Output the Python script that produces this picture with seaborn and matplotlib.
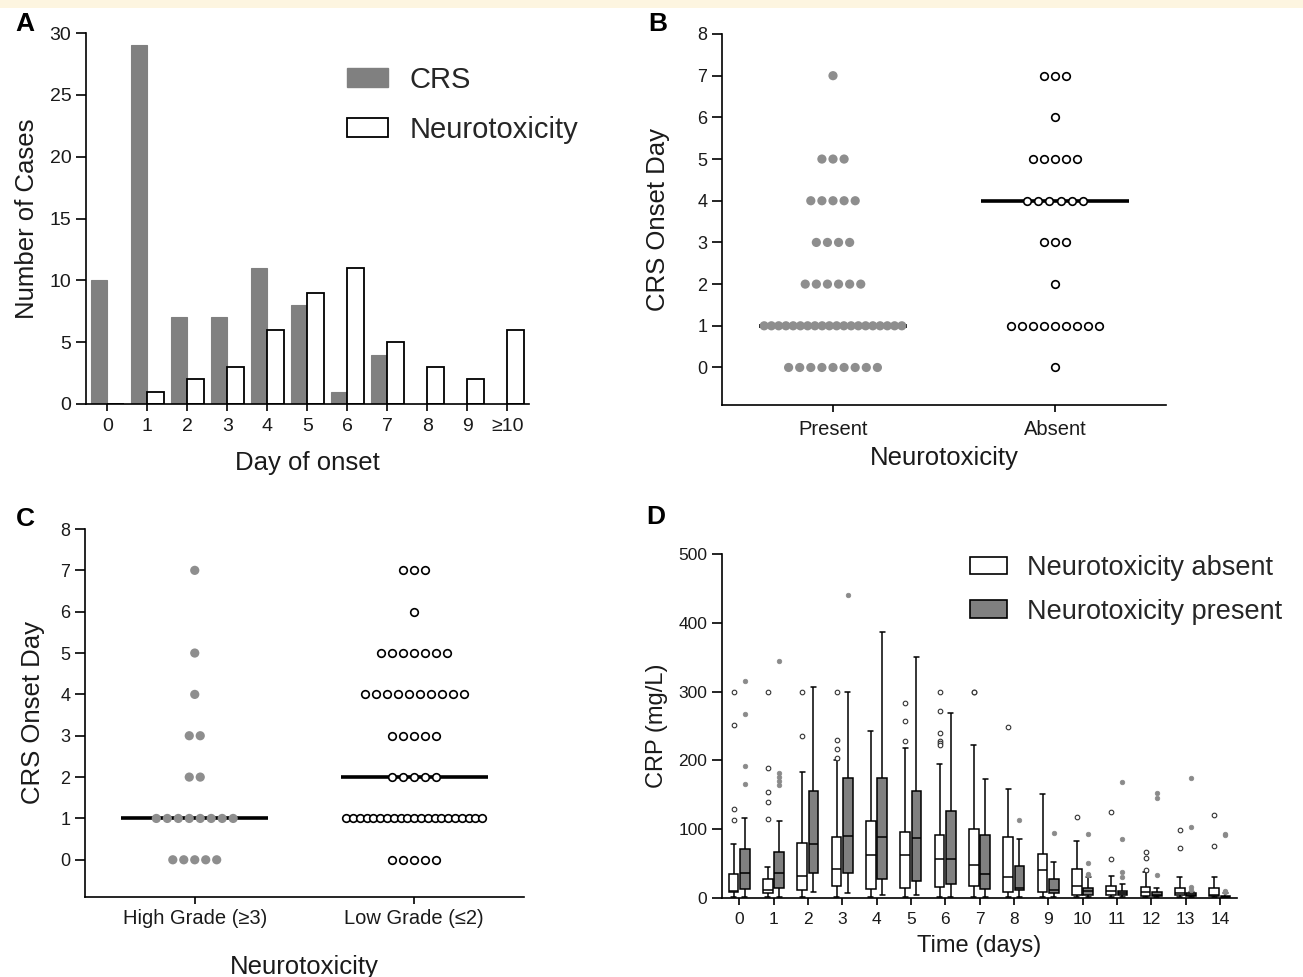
import numpy as np
import pandas as pd
import matplotlib
matplotlib.use('Agg')
import matplotlib.pyplot as plt
from matplotlib.patches import Patch, Rectangle
import seaborn as sns

# ---- Panel A: day of onset histogram ---------------------------------------
onset_days = ['0', '1', '2', '3', '4', '5', '6', '7', '8', '9', '≥10']
crs_cases = [10, 29, 7, 7, 11, 8, 1, 4, 0, 0, 0]
neuro_cases = [0, 1, 2, 3, 6, 9, 11, 5, 3, 2, 6]

# ---- Panels B/C: CRS onset day dot plots (number of patients per day) ------
crs_days = [0, 1, 2, 3, 4, 5, 6, 7]
present_counts = [9, 20, 6, 4, 5, 3, 0, 1]
absent_counts = [1, 9, 1, 3, 6, 5, 1, 3]
high_grade_counts = [5, 8, 2, 2, 1, 1, 0, 1]
low_grade_counts = [5, 21, 5, 5, 10, 7, 1, 3]

# ---- Panel D: CRP box plots (whisker low, Q1, median, Q3, whisker high) ----
time_days = list(range(15))
absent_lo = [1, 1, 1, 1, 1, 1, 1, 1, 1, 1, 1, 1, 1, 1, 1]
absent_q1 = [8, 7, 12, 17, 13, 14, 16, 17, 8, 9, 5, 4, 3.5, 4, 3]
absent_med = [10, 12, 32, 42, 63, 62, 57, 48, 30, 41, 17, 10, 8, 7, 4]
absent_q3 = [35, 27, 80, 88, 112, 96, 92, 101, 88, 64, 42, 18, 16, 14, 14]
absent_hi = [78, 45, 183, 200, 243, 218, 195, 222, 158, 151, 83, 32, 38, 31, 30]
absent_fliers = [[300, 251, 129, 113], [300, 189, 154, 139, 115], [300, 236],
                 [300, 229, 216, 204], [], [283, 257, 228],
                 [300, 272, 240, 228, 225, 223], [300, 299], [249], [], [118],
                 [125, 57], [67, 58, 41], [99, 73], [120, 75]]

present_lo = [1, 2, 8, 7, 4, 5, 2, 1, 2, 2, 1, 1, 1, 1, 0.5]
present_q1 = [13, 15, 37, 37, 28, 24, 20, 13, 11, 7, 5, 4, 3, 3, 1]
present_med = [37, 36, 78, 90, 89, 87, 57, 35, 15, 11, 10, 7, 5, 4, 1.5]
present_q3 = [71, 67, 156, 175, 175, 156, 127, 91, 47, 28, 15, 10, 8, 7, 2.5]
present_hi = [117, 112, 307, 300, 387, 351, 269, 173, 86, 53, 31, 20, 14, 9, 7]
present_fliers = [[316, 267, 192, 166], [345, 182, 176, 170, 164], [], [440], [],
                  [], [], [], [114], [94], [93, 51, 35, 33], [169, 86, 38, 31],
                  [153, 145, 33], [175, 103, 16, 12], [93, 91, 10, 8]]

GREY = '#808080'
DOT_GREY = '#8e8e8e'
TEXT = '#1a1a1a'
W, H = 1303, 977

sns.set_theme(style='ticks')
plt.rcParams['font.family'] = ['Liberation Sans', 'DejaVu Sans']
plt.rcParams.update({
    'axes.linewidth': 1.2, 'axes.edgecolor': 'black',
    'xtick.color': 'black', 'ytick.color': 'black',
    'xtick.labelcolor': TEXT, 'ytick.labelcolor': TEXT,
    'xtick.major.width': 1.2, 'ytick.major.width': 1.2,
    'xtick.major.size': 5, 'ytick.major.size': 7,
    'xtick.major.pad': 5, 'ytick.major.pad': 3.5,
    'axes.labelcolor': TEXT,
})

fig = plt.figure(figsize=(W / 100, H / 100), dpi=100)
fig.patches.append(Rectangle((0, 1 - 8 / H), 1, 8 / H, transform=fig.transFigure,
                             facecolor='#fdf5e0', edgecolor='none', zorder=0))


def px_axes(x0, y0, x1, y1):
    # axes box from pixel corners (top-left origin)
    return fig.add_axes([x0 / W, 1 - y1 / H, (x1 - x0) / W, (y1 - y0) / H])


axA = px_axes(86, 33, 529, 404)
axB = px_axes(722, 34, 1166, 405)
axC = px_axes(85, 529, 524, 897)
axD = px_axes(722, 554, 1237, 898)

# ---- Panel A ---------------------------------------------------------------
bar_df = pd.DataFrame({
    'day': onset_days * 2,
    'series': ['CRS'] * len(onset_days) + ['Neurotoxicity'] * len(onset_days),
    'cases': crs_cases + neuro_cases,
})
sns.barplot(data=bar_df, x='day', y='cases', hue='series', order=onset_days,
            palette={'CRS': GREY, 'Neurotoxicity': 'white'}, width=0.82,
            saturation=1, legend=False, ax=axA)
for p in axA.containers[0]:
    p.set_edgecolor(GREY)
    p.set_linewidth(0.8)
for p in axA.containers[1]:
    p.set_edgecolor('black')
    p.set_linewidth(1.3)
axA.set_xlim(-0.53, 10.54)
axA.set_ylim(0, 30)
axA.set_yticks(range(0, 31, 5))
axA.tick_params(axis='both', labelsize=14)
axA.set_xlabel('Day of onset', fontsize=18.5)
axA.set_ylabel('Number of Cases', fontsize=18.5)
axA.xaxis.set_label_coords(0.5, -0.128)
axA.yaxis.set_label_coords(-0.107, 0.5)
axA.legend(handles=[Patch(facecolor=GREY, edgecolor=GREY, label='CRS'),
                    Patch(facecolor='white', edgecolor='black', linewidth=1.3,
                          label='Neurotoxicity')],
           loc='upper left', bbox_to_anchor=(347 / W, 1 - 66 / H),
           bbox_transform=fig.transFigure, frameon=False, fontsize=21,
           handlelength=1.4, handleheight=0.62, handletextpad=0.75,
           labelspacing=0.75, borderpad=0, borderaxespad=0)
sns.despine(ax=axA)


# ---- Panels B and C ----------------------------------------------------------
def dot_row_positions(counts, center, step=0.05, max_span=0.62):
    xs, ys = [], []
    for day, n in zip(crs_days, counts):
        if n == 0:
            continue
        gap = step if n == 1 else min(step, max_span / (n - 1))
        xs.extend(center + (np.arange(n) - (n - 1) / 2) * gap)
        ys.extend([day] * n)
    return np.array(xs), np.array(ys)


def dot_panel(ax, filled_counts, open_counts, labels, tick_size):
    for center, counts, filled in [(0, filled_counts, True), (1, open_counts, False)]:
        xs, ys = dot_row_positions(counts, center)
        if filled:
            sns.scatterplot(x=xs, y=ys, ax=ax, s=44, color=DOT_GREY,
                            edgecolor='none', zorder=3)
        else:
            sns.scatterplot(x=xs, y=ys, ax=ax, s=30, color='white',
                            edgecolor='black', linewidth=1.2, zorder=3)
        median = np.median(np.repeat(crs_days, counts))
        ax.hlines(median, center - 0.335, center + 0.335, color='black',
                  lw=2.6, zorder=2)
    ax.set_xlim(-0.5, 1.5)
    ax.set_ylim(-0.9, 8)
    ax.set_yticks(range(0, 9))
    ax.set_xticks([0, 1])
    ax.set_xticklabels(labels)
    ax.tick_params(axis='y', labelsize=13)
    ax.tick_params(axis='x', labelsize=tick_size, pad=6)
    ax.set_ylabel('CRS Onset Day', fontsize=18.5)
    ax.set_xlabel('Neurotoxicity', fontsize=18.5)
    sns.despine(ax=ax)


dot_panel(axB, present_counts, absent_counts, ['Present', 'Absent'], 14.5)
axB.yaxis.set_label_coords(-0.118, 0.5)
axB.xaxis.set_label_coords(0.5, -0.11)

dot_panel(axC, high_grade_counts, low_grade_counts,
          ['High Grade (≥3)', 'Low Grade (≤2)'], 14.5)
axC.tick_params(axis='x', pad=4)
axC.yaxis.set_label_coords(-0.09, 0.5)
axC.xaxis.set_label_coords(0.5, -0.158)

# ---- Panel D -----------------------------------------------------------------
box_width = 0.66
rows = []
for grp, stats in [('absent', [absent_lo, absent_q1, absent_med, absent_q3, absent_hi]),
                   ('present', [present_lo, present_q1, present_med, present_q3, present_hi])]:
    for i, day in enumerate(time_days):
        for s in stats:
            rows.append({'day': day, 'group': grp, 'crp': s[i]})
box_df = pd.DataFrame(rows)

sns.boxplot(data=box_df, x='day', y='crp', hue='group', hue_order=['absent', 'present'],
            palette={'absent': 'white', 'present': GREY}, saturation=1,
            whis=(0, 100), width=box_width, gap=0.15, linecolor='black',
            linewidth=1.1, legend=False, ax=axD)

flier_rows = []
for grp, fliers, off in [('absent', absent_fliers, -box_width / 4),
                         ('present', present_fliers, box_width / 4)]:
    for i, vals in enumerate(fliers):
        for v in vals:
            flier_rows.append({'x': i + off, 'crp': v, 'group': grp})
flier_df = pd.DataFrame(flier_rows)
sns.scatterplot(data=flier_df[flier_df.group == 'absent'], x='x', y='crp', ax=axD,
                s=11, color='white', edgecolor='#333333', linewidth=0.8, zorder=4)
sns.scatterplot(data=flier_df[flier_df.group == 'present'], x='x', y='crp', ax=axD,
                s=11, color='#8a8a8a', edgecolor='#8a8a8a', linewidth=0.5, zorder=4)

axD.set_xlim(-0.5, 14.5)
axD.set_ylim(0, 500)
axD.set_yticks(range(0, 501, 100))
axD.set_xticks(time_days)
axD.set_xticklabels([str(d) for d in time_days])
axD.tick_params(axis='both', labelsize=12.5)
axD.set_xlabel('Time (days)', fontsize=17)
axD.set_ylabel('CRP (mg/L)', fontsize=17)
axD.xaxis.set_label_coords(0.5, -0.108)
axD.yaxis.set_label_coords(-0.105, 0.5)
axD.legend(handles=[Patch(facecolor='white', edgecolor='black', linewidth=1.2,
                          label='Neurotoxicity absent'),
                    Patch(facecolor=GREY, edgecolor='black', linewidth=1.2,
                          label='Neurotoxicity present')],
           loc='upper left', bbox_to_anchor=(970 / W, 1 - 555 / H),
           bbox_transform=fig.transFigure, frameon=False, fontsize=19.5,
           handlelength=1.35, handleheight=0.6, handletextpad=0.75,
           labelspacing=0.65, borderpad=0, borderaxespad=0)
sns.despine(ax=axD)

# ---- Panel letters -------------------------------------------------------------
for letter, x, y in [('A', 15, 12), ('B', 648, 12), ('C', 16, 507), ('D', 646, 505)]:
    fig.text(x / W, 1 - y / H, letter, fontsize=19, fontweight='bold',
             ha='left', va='top', color='black')

fig.savefig('out.png', dpi=100)
